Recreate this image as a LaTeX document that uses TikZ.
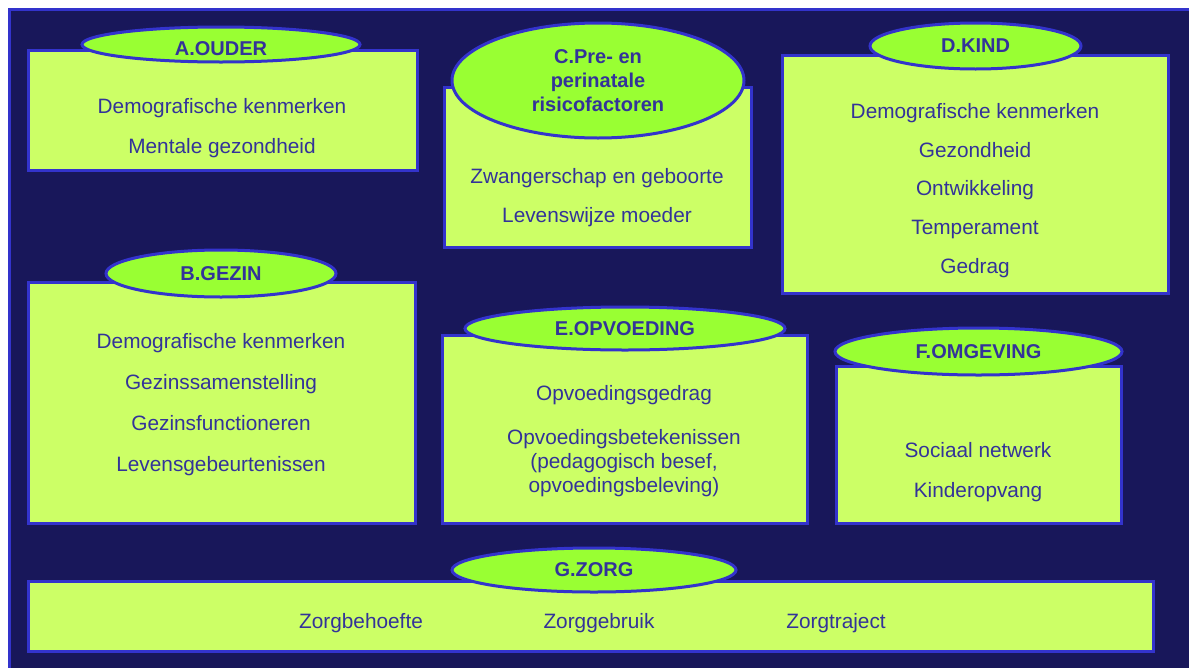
\documentclass[tikz,border=0pt]{standalone}
\usepackage{fontspec}
\setmainfont{Liberation Sans}
\usetikzlibrary{shapes.geometric}

\definecolor{navy}{HTML}{18175A}
\definecolor{rimblue}{HTML}{3333CC}
\definecolor{boxgreen}{HTML}{CCFF66}
\definecolor{taggreen}{HTML}{99FF33}
\definecolor{textblue}{HTML}{333399}

\begin{document}
\begin{tikzpicture}[x=1pt, y=-1pt,
  every node/.style={font=\fontsize{20.8}{24}\selectfont, text=textblue},
  box/.style={rectangle, draw=rimblue, line width=3pt, fill=boxgreen, inner sep=0pt},
  tag/.style={ellipse, draw=rimblue, line width=3pt, fill=taggreen, inner sep=0pt,
    align=center, font=\bfseries\fontsize{20}{24}\selectfont},
  itemblock/.style={inner sep=0pt, align=center, yshift=-2pt},
  item/.style={itemblock, text height=15pt, text depth=4.5pt}
]
\useasboundingbox (0,0) rectangle (1189,667);
\fill[white] (0,0) rectangle (1189,667);
\draw[rimblue, line width=3pt, fill=navy] (9,9) rectangle (1210,690);

% A. ouder
\node[box, minimum width=389pt, minimum height=120pt] (ouder) at (222.5,110) {};
\node[tag, minimum width=278pt, minimum height=35pt, text height=21pt, text depth=0pt]
  (ouder-tag) at (221,44.5) {A.OUDER};
\node[item] (ouder-1) at (222,106) {Demografische kenmerken};
\node[item] (ouder-2) at (222,146) {Mentale gezondheid};

% C. pre- en perinataal
\node[box, minimum width=307pt, minimum height=160pt] (peri) at (597.5,167) {};
\node[tag, minimum width=292pt, minimum height=115pt] (peri-tag) at (598,80.5)
  {C.Pre- en\\perinatale\\risicofactoren};
\node[item] (peri-1) at (597,176) {Zwangerschap en geboorte};
\node[item] (peri-2) at (597,215) {Levenswijze moeder};

% D. kind
\node[box, minimum width=386pt, minimum height=238pt] (kind) at (975,174) {};
\node[tag, minimum width=211pt, minimum height=46pt] (kind-tag) at (975.5,46) {D.KIND};
\foreach \txt [count=\i] in {Demografische kenmerken, Gezondheid, Ontwikkeling,
    Temperament, Gedrag}
  \node[item] (kind-\i) at (975,{111+38.75*(\i-1)}) {\txt};

% B. gezin
\node[box, minimum width=387pt, minimum height=241pt] (gezin) at (221.5,402.5) {};
\node[tag, minimum width=230pt, minimum height=47pt] (gezin-tag) at (221,273.5) {B.GEZIN};
\foreach \txt [count=\i] in {Demografische kenmerken, Gezinssamenstelling,
    Gezinsfunctioneren, Levensgebeurtenissen}
  \node[item] (gezin-\i) at (221,{341+41*(\i-1)}) {\txt};

% E. opvoeding
\node[box, minimum width=365pt, minimum height=188pt] (opvoeding) at (624.5,429) {};
\node[tag, minimum width=320pt, minimum height=43pt] (opvoeding-tag) at (625,328.5) {E.OPVOEDING};
\node[item] (opvoeding-1) at (624,393) {Opvoedingsgedrag};
\node[itemblock] (opvoeding-2) at (624,461)
  {Opvoedingsbetekenissen\\(pedagogisch besef,\\opvoedingsbeleving)};

% F. omgeving
\node[box, minimum width=285pt, minimum height=157pt] (omgeving) at (978.5,444.5) {};
\node[tag, minimum width=287pt, minimum height=47pt] (omgeving-tag) at (978.5,351.5) {F.OMGEVING};
\node[item] (omgeving-1) at (978,450) {Sociaal netwerk};
\node[item] (omgeving-2) at (978,490) {Kinderopvang};

% G. zorg
\node[box, minimum width=1125pt, minimum height=70pt] (zorg) at (590.5,616) {};
\node[tag, minimum width=284pt, minimum height=44pt] (zorg-tag) at (594,570) {G.ZORG};
\node[item] (zorg-1) at (361,621) {Zorgbehoefte};
\node[item] (zorg-2) at (599,621) {Zorggebruik};
\node[item] (zorg-3) at (836,621) {Zorgtraject};
\end{tikzpicture}
\end{document}
